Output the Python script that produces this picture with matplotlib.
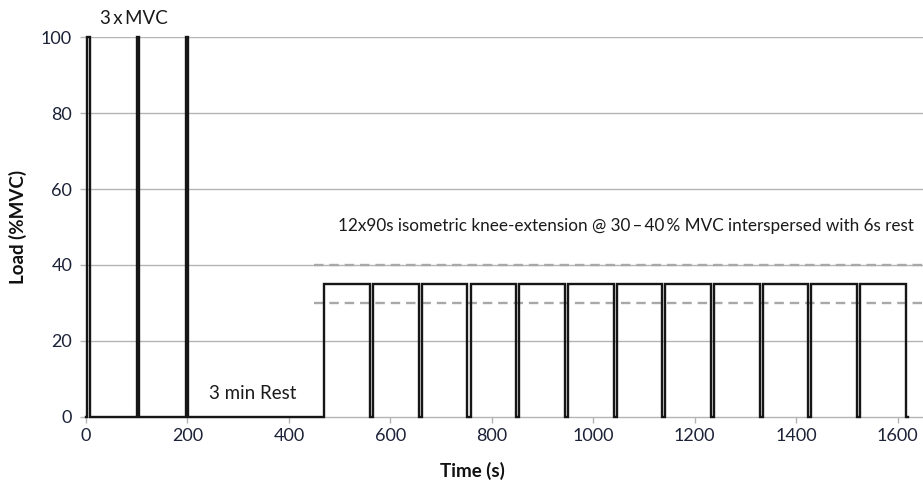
import matplotlib
matplotlib.use("Agg")
import matplotlib.pyplot as plt

plt.rcParams['font.family'] = ['Lato', 'DejaVu Sans']

# MVC trials: onset/offset (s) at 100 %MVC
mvc_on = [2, 100, 197]
mvc_off = [7, 105, 202]
mvc_load = 100

# 12 isometric bouts at ~35 %MVC, 6 s rest between
bout_on = [470, 566, 662, 758, 854, 950, 1046, 1142, 1238, 1334, 1430, 1526]
bout_off = [560, 656, 752, 848, 944, 1040, 1136, 1232, 1328, 1424, 1520, 1616]
bout_load = 35
trace_end = 1621

# target band
band_lo, band_hi = 30, 40
band_start = 450

x_ticks = [0, 200, 400, 600, 800, 1000, 1200, 1400, 1600]
y_ticks = [0, 20, 40, 60, 80, 100]

# build the step trace
t, load = [0], [0]
for on, off in zip(mvc_on, mvc_off):
    t += [on, on, off, off]
    load += [0, mvc_load, mvc_load, 0]
for on, off in zip(bout_on, bout_off):
    t += [on, on, off, off]
    load += [0, bout_load, bout_load, 0]
t.append(trace_end)
load.append(0)

fig = plt.figure(figsize=(9.23, 4.82), dpi=100)
ax = fig.add_axes([0.0932, 0.1349, 0.9068, 0.7883])

xmax = 1650
ax.set_xlim(0, xmax)
ax.set_ylim(0, 100)

for yv in y_ticks[1:]:
    ax.axhline(yv, color="#b4b4b4", lw=1.0, zorder=1)

ax.hlines([band_lo, band_hi], band_start, xmax, colors="#a8a8a8",
          linestyles=(0, (4, 2.5)), lw=1.7, zorder=2)

ax.plot(t, load, color="#161616", lw=1.7, solid_joinstyle="miter", zorder=3,
        clip_on=False)

for s in ["top", "right", "left"]:
    ax.spines[s].set_visible(False)
ax.spines["bottom"].set_color("#b4b4b4")
ax.spines["bottom"].set_linewidth(1.0)

ax.set_xticks(x_ticks)
ax.set_yticks(y_ticks)
ax.tick_params(axis="both", colors="#b4b4b4", labelcolor="#1c2237",
               labelsize=13, length=4, width=1)
ax.tick_params(axis="y", pad=6)
ax.tick_params(axis="x", pad=4)

ax.set_xlabel("Time (s)", fontsize=13.5, fontweight="bold", color="#111111")
ax.set_ylabel("Load (%MVC)", fontsize=13.5, fontweight="bold", color="#111111")
ax.xaxis.set_label_coords(0.462, -0.118)
ax.yaxis.set_label_coords(-0.0705, 0.5)

ax.text(28, 104.8, "3\u2009x\u2009MVC", fontsize=13.5, color="#1a1a1a", va="center")
ax.text(243, 6.3, "3 min Rest", fontsize=13.5, color="#1a1a1a", va="center")
ax.text(1632, 50.2,
        "12x90s isometric knee-extension @ 30\u2009\u2013\u200940\u2009% MVC "
        "interspersed with 6s rest",
        fontsize=12.3, color="#1a1a1a", va="center", ha="right")

fig.savefig("out.png", dpi=100)
